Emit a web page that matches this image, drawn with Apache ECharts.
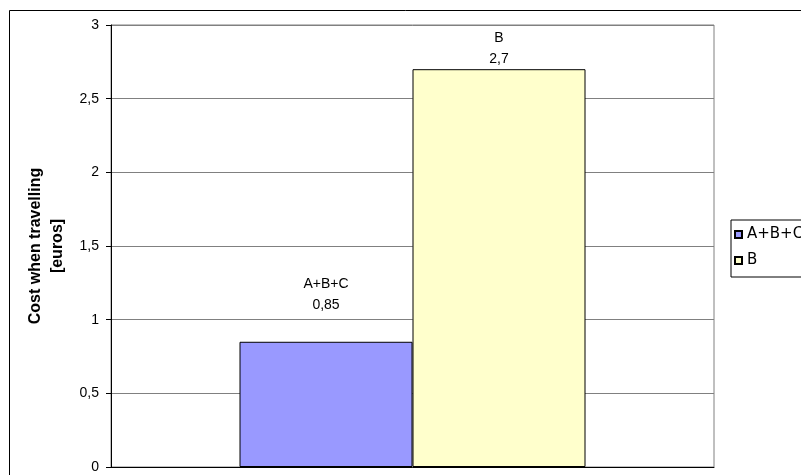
<!DOCTYPE html>
<html>
<head>
<meta charset="utf-8">
<script src="https://cdn.jsdelivr.net/npm/echarts@6/dist/echarts.min.js"></script>
<style>
  html, body { margin: 0; padding: 0; background: #fff; }
  #chart { width: 801px; height: 475px; }
</style>
</head>
<body>
<div id="chart"></div>
<script>
var categories = [''];
var seriesNames = ['A+B+C', 'B'];
var seriesValues = [[0.85], [2.7]];
var seriesColors = ['#9999FF', '#FFFFCC'];
var labelDistance = [26, 0];

function comma(v) {
  return String(v).replace('.', ',');
}

var chart = echarts.init(document.getElementById('chart'));

var series = seriesNames.map(function (name, i) {
  return {
    name: name,
    type: 'bar',
    data: seriesValues[i],
    barWidth: 173,
    barGap: '0%',
    itemStyle: { color: seriesColors[i], borderColor: '#000', borderWidth: 1 },
    label: {
      show: true,
      position: 'top',
      distance: labelDistance[i],
      fontFamily: 'Liberation Sans, Arial',
      fontSize: 14,
      lineHeight: 21,
      color: '#000',
      formatter: function (p) { return p.seriesName + '\n' + comma(p.value); }
    }
  };
});

chart.setOption({
  animation: false,
  graphic: [{
    type: 'rect',
    shape: { x: 9.5, y: 10.5, width: 800, height: 480 },
    style: { fill: 'none', stroke: '#000', lineWidth: 1 },
    z: -1
  }],
  grid: {
    left: 111, top: 25, right: 87, bottom: 8,
    outerBoundsMode: 'none',
    show: true, borderColor: '#808080', borderWidth: 1, backgroundColor: '#fff'
  },
  legend: {
    orient: 'vertical',
    left: 731, top: 220,
    padding: [7, 20, 9, 3],
    borderColor: '#000', borderWidth: 1,
    itemWidth: 7, itemHeight: 7, itemGap: 11, itemTextGap: 4,
    icon: 'rect',
    textStyle: { fontFamily: 'DejaVu Sans', fontSize: 15, lineHeight: 14, color: '#000' },
    data: seriesNames
  },
  xAxis: {
    type: 'category',
    data: categories,
    axisLine: { lineStyle: { color: '#000' } },
    axisTick: { show: false },
    axisLabel: { show: false }
  },
  yAxis: {
    type: 'value',
    min: 0, max: 3, interval: 0.5,
    name: 'Cost when travelling\n[euros]',
    nameLocation: 'middle',
    nameRotate: 90,
    nameGap: 41,
    nameTextStyle: { fontFamily: 'Liberation Sans, Arial', fontSize: 16, fontWeight: 'bold', lineHeight: 22, color: '#000' },
    axisLine: { show: true, lineStyle: { color: '#000' } },
    axisTick: { show: true, length: 5, lineStyle: { color: '#000' } },
    axisLabel: {
      margin: 12,
      fontFamily: 'Liberation Sans, Arial', fontSize: 14, color: '#000',
      formatter: comma
    },
    splitLine: { lineStyle: { color: '#808080' } }
  },
  series: series
});
</script>
</body>
</html>
